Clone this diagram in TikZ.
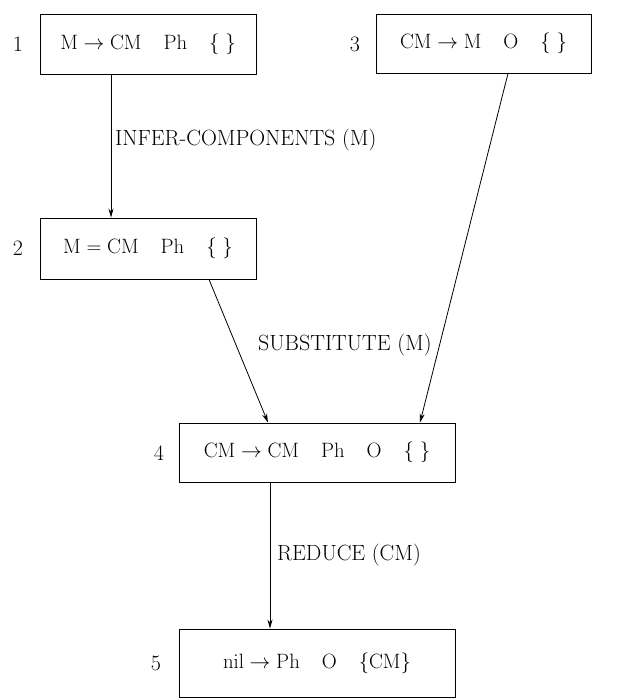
\documentclass[tikz,border=0pt]{standalone}
\usetikzlibrary{arrows.meta}
\begin{document}
\begin{tikzpicture}[x=1pt,y=-1pt,
  every node/.style={font=\fontsize{22}{26}\selectfont},
  box/.style={draw,line width=0.9pt,inner sep=0pt,minimum width=#1},
  num/.style={inner sep=0pt},
  lab/.style={anchor=west,inner sep=0pt},
  conn/.style={line width=0.8pt,-{Stealth[length=9pt,width=5pt,inset=3pt]}}]
\useasboundingbox (0,0) rectangle (640,700);
\node[box=216pt,minimum height=60pt] (b1) at (148,44) {$\mathrm{M}\rightarrow\mathrm{CM}\quad\mathrm{Ph}\quad\{\;\}$};
\node[box=215pt,minimum height=59pt] (b3) at (483.5,43.5) {$\mathrm{CM}\rightarrow\mathrm{M}\quad\mathrm{O}\quad\{\;\}$};
\node[box=216pt,minimum height=61pt] (b2) at (148,248.5) {$\mathrm{M}=\mathrm{CM}\quad\mathrm{Ph}\quad\{\;\}$};
\node[box=276pt,minimum height=59pt] (b4) at (317,452.5) {$\mathrm{CM}\rightarrow\mathrm{CM}\quad\mathrm{Ph}\quad\mathrm{O}\quad\{\;\}$};
\node[box=276pt,minimum height=68pt] (b5) at (317,663) {$\mathrm{nil}\rightarrow\mathrm{Ph}\quad\mathrm{O}\quad\{\mathrm{CM}\}$};
\node[num] (n1) at (18,44) {1};
\node[num] (n2) at (18,248) {2};
\node[num] (n3) at (355,44) {3};
\node[num] (n4) at (159,453) {4};
\node[num] (n5) at (156,663) {5};
\draw[conn] ([xshift=-37pt]b1.south) -- ([xshift=-37pt]b2.north);
\draw[conn] ([xshift=61pt]b2.south) -- ([xshift=-49pt]b4.north);
\draw[conn] ([xshift=24.5pt]b3.south) -- ([xshift=103pt]b4.north);
\draw[conn] ([xshift=-47pt]b4.south) -- ([xshift=-47pt]b5.north);
\node[lab] (l1) at (115,140) {INFER-COMPONENTS (M)};
\node[lab] (l2) at (258,345) {SUBSTITUTE (M)};
\node[lab] (l3) at (277,555) {REDUCE (CM)};
\end{tikzpicture}
\end{document}
